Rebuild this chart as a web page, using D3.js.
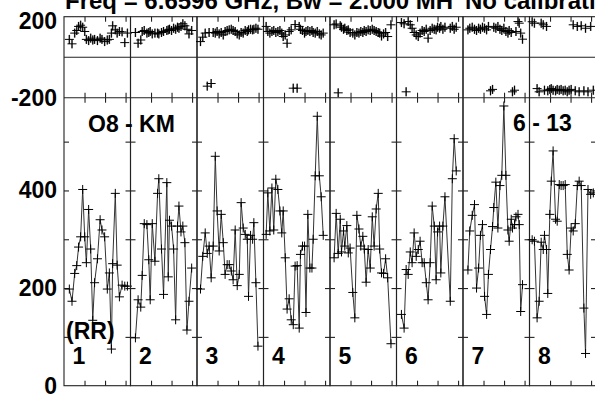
<!DOCTYPE html>
<html><head><meta charset="utf-8">
<script src="https://cdn.jsdelivr.net/npm/d3@7"></script>
<style>body{margin:0;background:#fff;overflow:hidden}text{font-family:"Liberation Sans",Arial,sans-serif;font-weight:bold;fill:#000}</style>
</head><body>
<script>
// ---- data ----
const ifLabels = ["1","2","3","4","5","6","7","8"];
const timeDomain = [0, 32.4];          // minutes within each IF panel
const timeTicks = [10, 20, 30];
const ampDomain = [0, 590];
const ampTicks = [100, 200, 300, 400, 500];
const ampLabels = [0, 200, 400];
const phaseDomain = [-200, 200];
const phaseLabels = [-200, 200];
const phaseErr = 22;
const titleText = "Freq = 6.6596 GHz, Bw = 2.000 MH";
const noteText = "No calibrati";
const baselineLeft = "O8 - KM";
const baselineRight = "6 - 13";
const polLabel = "(RR)";

const times = [
 [2.6,3.9,5.2,6.2,7.1,8.1,9.1,10.1,10.9,12.0,13.0,14.0,14.9,16.3,17.6,18.5,19.8,21.1,22.1,23.1,23.7,25.0,25.9,27.0,28.3,29.6,30.9],
 [2.4,3.7,5.0,5.7,6.7,8.0,8.9,9.6,10.6,11.9,13.2,13.8,15.1,16.1,17.7,18.4,19.0,20.0,21.0,22.0,22.9,23.6,24.6,25.5,26.5,27.5,28.5,29.8],
 [1.7,2.8,4.0,5.0,5.9,6.9,7.9,8.9,9.8,10.8,11.8,12.8,13.7,14.7,15.7,16.7,17.6,18.6,19.6,20.6,21.5,22.5,23.5,24.5,25.1,26.1,27.1,27.7,28.7,29.7],
 [1.3,2.1,3.1,4.1,5.0,6.0,7.0,8.0,8.9,9.6,10.6,11.5,12.5,13.5,14.5,15.4,16.4,17.4,18.0,19.0,20.0,20.7,21.6,22.6,23.6,24.2,25.2,26.2,27.2,28.1,29.1],
 [2.0,3.0,4.0,5.0,5.6,6.6,7.2,8.2,8.9,9.8,11.1,12.1,13.1,14.1,15.0,16.0,16.7,17.6,18.6,19.6,20.6,21.5,22.5,23.5,24.2,25.1,26.1,27.1,28.1,29.7],
 [2.4,3.7,4.7,5.7,6.7,7.6,8.6,9.6,10.6,11.5,12.5,13.5,14.5,15.4,16.4,17.4,18.4,19.3,20.0,21.0,21.6,22.6,23.6,26.2,27.2,28.1,29.1],
 [2.4,3.3,4.5,5.6,6.6,7.6,8.5,9.5,10.5,11.5,12.4,13.4,14.4,15.0,16.0,17.0,18.0,18.9,19.9,20.9,21.9,22.5,23.5,24.1,25.1,25.8,26.8,27.4,28.1,29.0],
 [1.3,2.4,3.7,4.7,5.7,6.7,7.3,8.3,8.9,9.9,10.6,11.5,12.7,13.5,14.5,15.4,16.4,17.4,18.4,19.3,20.3,21.3,22.3,23.3,24.2,25.2,26.5,27.3,28.5,29.8,31.1]
];
const amplitudes = [
 [198,173,230,246,284,305,402,305,252,361,280,134,211,260,340,319,305,198,231,75,250,394,247,182,206,204,204],
 [98,176,161,226,332,330,258,176,332,255,394,424,280,187,416,223,339,327,280,135,327,368,315,327,293,114,173,241],
 [198,265,313,271,286,221,286,470,358,276,351,293,228,248,248,235,217,319,205,228,375,323,310,300,183,308,300,334,211,81],
 [310,395,317,405,319,423,402,358,313,358,262,157,178,135,125,245,246,118,269,286,286,150,351,241,241,300,430,552,430,387,308],
 [262,353,271,341,274,317,286,328,272,282,191,139,349,321,286,306,280,212,279,241,346,286,362,394,280,231,230,260,221,86],
 [146,118,238,228,274,252,313,265,279,296,252,252,211,176,252,368,327,217,315,327,231,327,387,173,424,506,440],
 [237,317,349,371,200,241,308,330,183,146,228,279,326,365,417,323,410,431,573,431,319,296,341,323,330,346,351,330,152,207],
 [299,296,139,173,294,279,308,279,189,351,419,481,341,337,412,410,410,412,269,237,323,317,332,410,419,410,159,66,402,392,395]
];
const phases = [
 [88,66,119,132,152,158,148,127,88,82,94,85,88,82,94,88,77,85,88,119,155,135,119,127,125,72,119],
 [122,69,85,127,132,119,122,127,115,119,119,115,122,127,132,135,138,132,143,138,148,143,152,165,155,138,115,132],
 [77,99,119,-143,122,-130,122,119,127,115,122,110,127,132,135,138,132,127,115,110,122,119,132,127,135,138,135,138,143,138],
 [152,127,119,127,132,122,127,132,119,102,110,69,127,135,-153,161,-153,152,138,132,119,127,132,127,132,122,119,127,115,110,119],
 [160,164,-176,155,148,138,143,132,135,122,119,110,122,119,127,122,132,127,135,132,138,132,127,122,119,105,115,122,102,160],
 [171,165,-171,176,160,143,122,110,102,119,132,127,138,94,132,143,138,135,148,143,152,138,148,143,152,138,148],
 [135,143,148,138,132,143,138,148,143,135,152,-166,-159,148,143,152,138,132,143,127,119,132,122,-171,-163,127,176,168,119,89],
 [175,168,-155,-171,168,160,-163,152,-166,-159,-155,-163,-166,-159,-163,-159,-166,-163,-171,-163,-159,160,-166,152,-171,155,-166,143,-171,152,-163]
];

// ---- layout ----
const W = 595, H = 394;
const left = 64, panelW = 66.5;
const yTop = 16.7, yMid = 97.7, yBot = 385.7;
const FONT = 23;

const svg = d3.select("body").append("svg").attr("width", W).attr("height", H);
svg.append("rect").attr("width", W).attr("height", H).attr("fill", "#fff");

const band = d3.scaleBand().domain(ifLabels).range([left, left + panelW * ifLabels.length]).padding(0);
const yAmp = d3.scaleLinear().domain(ampDomain).range([yBot, yMid]);
const yPh = d3.scaleLinear().domain(phaseDomain).range([yMid, yTop]);
const frameColor = "#222";

// titles
svg.append("text").attr("x", 65).attr("y", 9).attr("font-size", 24).text(titleText);
svg.append("text").attr("x", 465).attr("y", 9).attr("font-size", 24).text(noteText);

// zero phase line
svg.append("line").attr("x1", left).attr("x2", W + 5)
  .attr("y1", yPh(0)).attr("y2", yPh(0)).attr("stroke", frameColor).attr("stroke-width", 1.1);

ifLabels.forEach((lab, i) => {
  const x0 = band(lab), x1 = x0 + band.bandwidth();
  const x = d3.scaleLinear().domain(timeDomain).range([x0, x1]);
  const g = svg.append("g");

  // frames
  g.append("rect").attr("x", x0).attr("y", yTop).attr("width", x1 - x0).attr("height", yBot - yTop)
    .attr("fill", "none").attr("stroke", frameColor).attr("stroke-width", 1.1);
  g.append("line").attr("x1", x0).attr("x2", x1).attr("y1", yMid).attr("y2", yMid)
    .attr("stroke", frameColor).attr("stroke-width", 1.1);

  const tickStyle = sel => { sel.select(".domain").remove(); sel.selectAll("line").attr("stroke", frameColor).attr("stroke-width", 1.1); sel.selectAll("text").remove(); };
  // amplitude y ticks inward
  g.append("g").attr("transform", `translate(${x0},0)`).call(d3.axisRight(yAmp).tickValues(ampTicks).tickSize(5)).call(tickStyle);
  g.append("g").attr("transform", `translate(${x1},0)`).call(d3.axisLeft(yAmp).tickValues(ampTicks).tickSize(5)).call(tickStyle);
  // time ticks inward
  g.append("g").attr("transform", `translate(0,${yBot})`).call(d3.axisTop(x).tickValues(timeTicks).tickSize(5)).call(tickStyle);
  g.append("g").attr("transform", `translate(0,${yMid})`).call(d3.axisBottom(x).tickValues(timeTicks).tickSize(5)).call(tickStyle);
  g.append("g").attr("transform", `translate(0,${yMid})`).call(d3.axisTop(x).tickValues(timeTicks).tickSize(5)).call(tickStyle);
  g.append("g").attr("transform", `translate(0,${yTop})`).call(d3.axisBottom(x).tickValues(timeTicks).tickSize(5)).call(tickStyle);

  const pts = times[i].map((t, k) => ({t, a: amplitudes[i][k], p: phases[i][k]}));

  // amplitude line
  g.append("path").datum(pts)
    .attr("d", d3.line().x(d => x(d.t)).y(d => yAmp(d.a)))
    .attr("fill", "none").attr("stroke", "#333").attr("stroke-width", 1);
  // amplitude crosses
  g.append("path")
    .attr("d", pts.map(d => `M${x(d.t) - 4.5},${yAmp(d.a)}h9M${x(d.t)},${yAmp(d.a) - 4.5}v9`).join(""))
    .attr("stroke", "#000").attr("stroke-width", 1);

  // phase error bars
  g.append("path")
    .attr("d", pts.map(d => `M${x(d.t)},${yPh(d.p - phaseErr)}V${yPh(d.p + phaseErr)}`).join(""))
    .attr("stroke", "#888").attr("stroke-width", 1.6);
  // phase crosses
  g.append("path")
    .attr("d", pts.map(d => `M${x(d.t) - 4.5},${yPh(d.p)}h9M${x(d.t)},${yPh(d.p) - 4.5}v9`).join(""))
    .attr("stroke", "#000").attr("stroke-width", 1);

  // IF number
  g.append("text").attr("x", x0 + 8.5).attr("y", 364).attr("font-size", FONT).text(lab);
});

// axis labels (left), plain hyphen minus as in the reference
const fmt = d => String(d);
const lblStyle = sel => { sel.select(".domain").remove(); sel.selectAll("text").attr("font-size", FONT).attr("font-family", "Liberation Sans, Arial, sans-serif").attr("font-weight", "bold").attr("fill", "#000"); };
svg.append("g").attr("transform", `translate(${left},0)`)
  .call(d3.axisLeft(yAmp).tickValues(ampLabels).tickFormat(fmt).tickSize(0).tickPadding(7)).call(lblStyle);
const phAx = svg.append("g").attr("transform", `translate(${left},0)`)
  .call(d3.axisLeft(yPh).tickValues(phaseLabels).tickFormat(fmt).tickSize(0).tickPadding(7)).call(lblStyle);
phAx.selectAll(".tick").filter(d => d === phaseDomain[1]).select("text").attr("dy", "0.5em");

// baseline / polarization labels
svg.append("text").attr("x", 88).attr("y", 132).attr("font-size", FONT).text(baselineLeft);
svg.append("text").attr("x", 513).attr("y", 131).attr("font-size", FONT).text(baselineRight);
svg.append("text").attr("x", 66).attr("y", 338.5).attr("font-size", FONT).text(polLabel);
</script>
</body></html>
